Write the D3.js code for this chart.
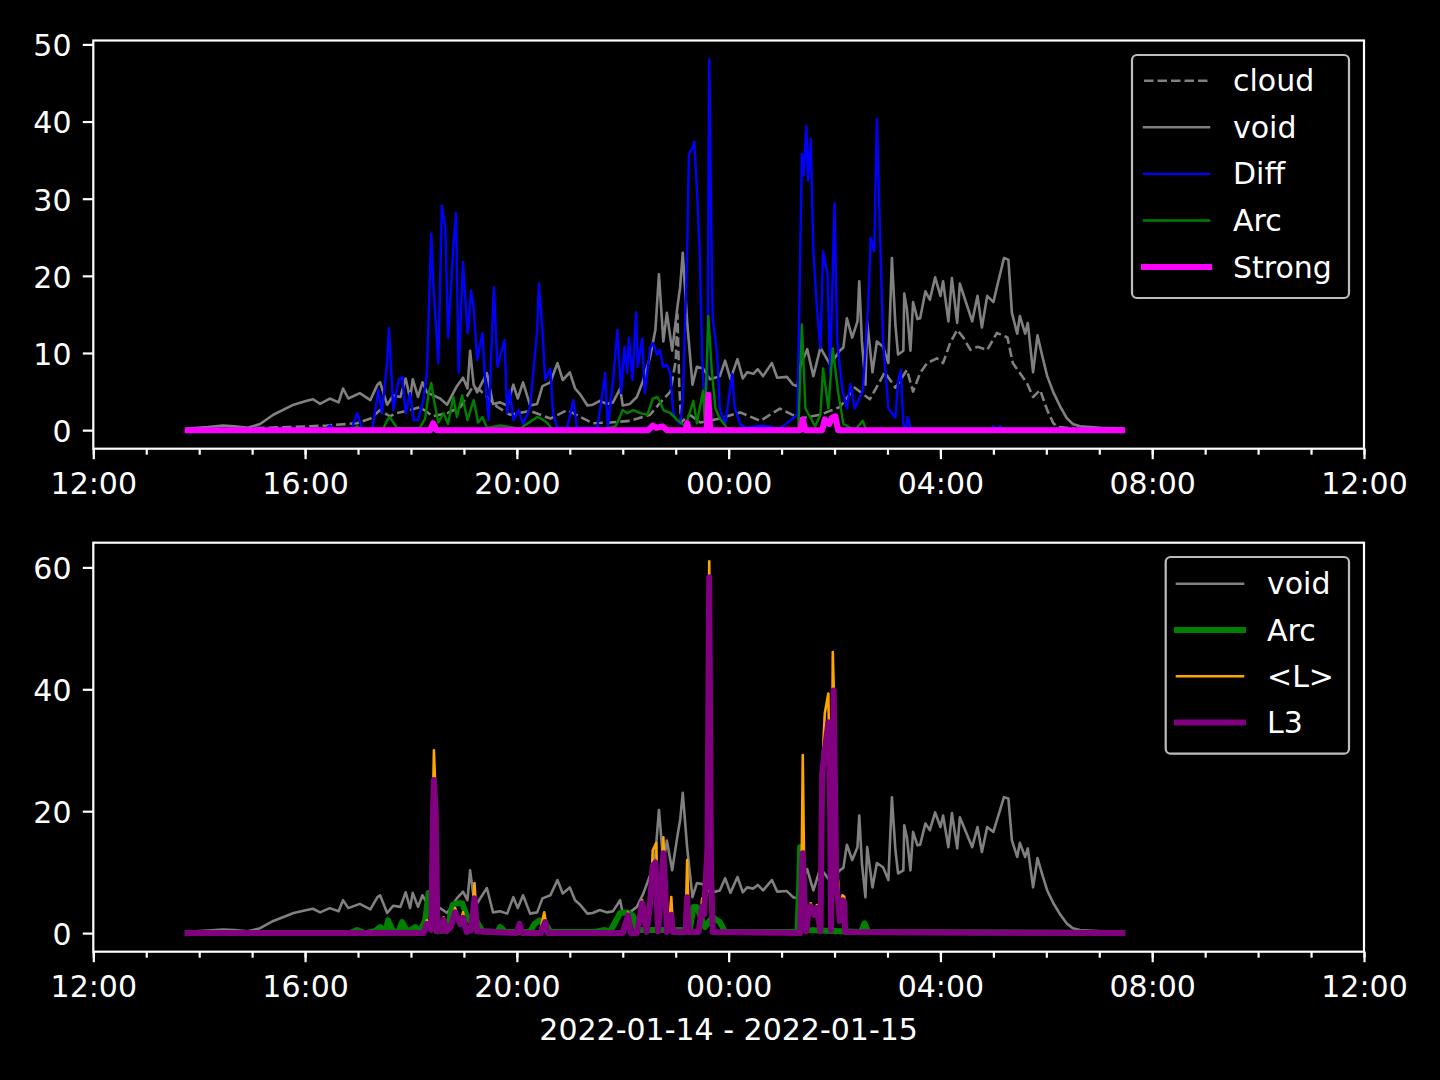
<!DOCTYPE html>
<html><head><meta charset="utf-8">
<script src="https://cdn.jsdelivr.net/npm/d3@7"></script>
<style>
html,body{margin:0;padding:0;background:#000;}
svg{display:block;}
text{font-family:"DejaVu Sans",sans-serif;fill:#fff;}
</style>
</head><body>
<svg id="chart" width="1440" height="1080"></svg>
<script>
// ---- DATA: [minutes after 2022-01-14 12:00, value] ----
const cloudData = [[107,0],[223,0.4],[265,0.6],[299,0.9],[314,1.5],[325,2.6],[336,1.8],[344,2.2],[359,2.6],[370,3.0],[385,1.8],[401,2.2],[416,3.0],[430,5.6],[438,5.2],[458,3.0],[472,2.0],[495,2.5],[518,1.5],[537,2.6],[552,1.7],[566,0.9],[586,1.0],[608,1.2],[631,2.0],[642,3.5],[654,5.0],[660,9],[662,15],[664,6],[666,1.0],[676,2.0],[688,1.0],[710,1.5],[733,2.3],[756,1.2],[778,2.8],[801,1.5],[824,2.0],[846,3.0],[863,5.5],[880,4.0],[897,7.5],[909,5.5],[922,7.8],[929,5.0],[937,7.4],[945,8.7],[956,9.3],[963,8.7],[971,11.3],[979,13.0],[986,12.0],[994,10.4],[1002,10.8],[1013,10.4],[1024,12.6],[1036,12.0],[1042,8.7],[1050,7.4],[1058,6.1],[1065,4.3],[1073,5.2],[1081,2.6],[1088,0.9],[1093,0.4],[1118,0.1],[1166,0]];

const voidData = [[107,0.2],[130,0.4],[147,0.6],[160,0.5],[175,0.3],[189,0.8],[204,2.0],[227,3.3],[242,3.8],[249,4.0],[257,3.4],[268,4.1],[278,3.6],[283,5.4],[289,4.1],[302,4.8],[314,3.9],[322,5.9],[325,6.2],[333,3.3],[340,4.5],[348,4.3],[354,6.7],[359,4.1],[362,6.6],[368,4.3],[373,6.2],[378,4.9],[393,4.1],[401,3.3],[412,5.7],[419,6.8],[424,5.4],[427,10.3],[431,5.9],[435,4.9],[446,7.4],[453,3.4],[461,3.6],[469,3.2],[476,5.9],[481,4.1],[487,6.2],[495,3.2],[503,3.4],[509,5.7],[518,6.2],[526,8.7],[532,6.5],[540,7.5],[546,5.4],[552,4.6],[560,3.2],[566,3.3],[574,3.8],[582,3.4],[589,3.6],[597,5.4],[600,3.2],[608,3.4],[616,4.3],[623,6.4],[631,9.5],[637,13.0],[641,20.2],[646,11.5],[650,15.2],[656,10.3],[662,16.0],[665,18.5],[668,23.0],[673,14.0],[679,5.9],[684,8.2],[691,8.0],[699,6.6],[710,7.0],[716,9.0],[722,6.6],[730,9.2],[736,6.7],[741,7.5],[748,7.3],[753,7.9],[759,7.0],[769,8.7],[775,6.8],[786,6.9],[793,5.9],[798,5.7],[801,8.2],[809,10.5],[816,7.0],[824,10.7],[835,8.5],[846,10.3],[850,10.7],[854,14.5],[860,12.0],[866,14.1],[868,19.3],[871,11.5],[875,5.9],[877,14.1],[883,7.5],[888,11.5],[895,10.8],[901,8.7],[905,22.3],[909,13.6],[912,9.8],[918,10.3],[919,17.7],[922,15.7],[926,10.3],[929,16.6],[934,14.4],[937,14.5],[943,18.0],[948,16.9],[954,19.8],[960,17.4],[963,19.3],[969,14.1],[973,19.7],[979,13.9],[982,19.0],[988,16.9],[996,14.1],[1002,17.4],[1007,13.3],[1013,17.4],[1020,16.6],[1025,19.0],[1032,22.3],[1037,22.1],[1041,15.2],[1047,12.5],[1050,14.8],[1056,12.5],[1059,13.9],[1065,7.5],[1070,12.3],[1075,9.8],[1081,7.0],[1088,4.9],[1096,3.0],[1103,1.6],[1110,0.8],[1118,0.5],[1141,0.3],[1166,0.2]];

const diffData = [[107,0],[262,0],[268,0.6],[274,0],[292,0],[299,2.2],[305,0],[316,0],[323,5.2],[327,2.2],[333,8.8],[335,13.2],[340,2.6],[346,6.5],[350,6.9],[354,2.2],[359,4.8],[363,1.3],[368,1.3],[374,3.9],[378,7.4],[383,25.5],[385,19.4],[391,8.7],[395,29.1],[399,26.3],[402,12.0],[408,23.7],[411,28.2],[414,7.4],[419,21.8],[424,12.6],[425,13.3],[428,18.1],[431,16],[435,9.1],[441,12.6],[444,6.5],[448,1.3],[452,13.0],[454,18.5],[458,8.2],[462,10],[466,11.7],[469,2.2],[472,5.2],[476,1.3],[482,2.6],[487,0.8],[495,3.0],[503,13],[505,19.0],[509,13],[512,6.5],[518,8.0],[521,2.2],[526,0.3],[537,0.3],[544,3.9],[548,0.3],[571,0.3],[577,4.8],[580,7.4],[583,0.3],[589,6.5],[594,13],[598,4.8],[602,10.8],[605,7.4],[607,12.0],[611,6.5],[615,15.3],[617,8.2],[622,11.9],[625,4.8],[631,10.6],[634,11.3],[639,9.8],[642,10.4],[646,8.2],[650,8.5],[654,7.3],[657,2.6],[659,1.6],[665,0.8],[668,3.8],[673,23.2],[675,35.8],[679,36.6],[681,37.4],[684,31.3],[687,23.6],[690,9.3],[693,2.8],[696,7.3],[698,48.1],[700,28.8],[702,14.5],[707,9.8],[710,2.8],[716,0.8],[724,7.3],[727,2.8],[733,0.8],[739,0.3],[758,0.6],[778,0.2],[798,2.0],[803,35.8],[805,33],[808,39.4],[810,32.3],[813,37.8],[816,23.2],[820,15.8],[824,10.6],[827,23.2],[832,20.2],[835,7.3],[840,29.4],[843,11.5],[849,5.1],[854,2.8],[858,6.0],[863,2.8],[872,5.1],[878,15.8],[881,24.9],[885,23.2],[888,40.3],[892,23.6],[895,11.5],[901,2.8],[909,1.6],[912,6.4],[915,7.8],[918,0.8],[921,0.3],[923,1.7],[926,0.3],[932,0],[1017,0],[1020,0.5],[1023,0],[1028,0.5],[1031,0],[1166,0]];

const arcTopData = [[107,0],[291,0],[299,0.5],[305,0],[328,0],[333,1.3],[336,1.7],[344,0.3],[370,0.3],[376,1.5],[380,4.8],[383,6.1],[386,3.9],[391,1.0],[397,2.2],[402,0.8],[408,4.3],[412,1.7],[418,4.5],[424,1.3],[431,3.9],[436,1.0],[441,1.7],[446,0.3],[461,0.6],[484,0.2],[503,1.7],[506,1.6],[514,1.0],[521,0],[574,0],[592,0.5],[600,2.6],[605,2.2],[612,2.6],[620,2.2],[628,2.0],[634,4.1],[639,4.3],[642,3.8],[646,2.6],[654,2.2],[662,1.3],[671,0.5],[680,3.8],[684,0.9],[691,5.1],[693,0.9],[697,14.8],[701,7.5],[705,2.8],[710,1.5],[718,0.3],[733,0],[799,0],[803,13.7],[807,2.8],[818,0.5],[824,2.0],[827,8.0],[833,2.8],[838,10.6],[844,5.0],[850,0.8],[863,0],[872,1.2],[876,0],[1166,0]];

const strongData = [[107,0],[382,0],[385,0.9],[389,0],[629,0],[634,0.6],[638,0.3],[645,0.5],[650,0],[671,0],[673,0.9],[675,0],[695,0],[697,4.6],[699,0],[801,0],[804,1.4],[807,0],[826,0],[829,1.4],[834,0.8],[837,1.6],[841,1.8],[844,0],[1166,0]];

const arcBottomData = [[107,0],[291,0],[299,0.5],[308,0],[319,0.3],[325,1.0],[331,0.2],[334,2.1],[340,0.2],[346,0.3],[350,1.8],[356,0.2],[365,1.0],[370,0.2],[376,2.0],[380,6.6],[384,3.0],[389,0.3],[401,0.5],[407,4.6],[412,4.9],[418,4.9],[424,2.6],[427,2.0],[433,1.5],[435,1.8],[441,0.3],[458,0.2],[461,1.0],[467,0.2],[495,0.2],[500,1.5],[506,2.1],[512,1.6],[518,0.2],[569,0.2],[578,0.5],[586,0.3],[597,3.3],[605,3.4],[612,2.8],[616,0.5],[676,0.5],[680,4.3],[684,4.3],[693,1.0],[702,2.6],[710,1.8],[716,0.2],[798,0.2],[800,8],[801,14.1],[804,8],[808,0.5],[870,0.2],[874,1.6],[878,0.2],[1166,0]];

const meanLData = [[107,0],[374,0],[378,2.1],[383,0.5],[385,22],[386,30.0],[388,22],[390,0.3],[395,0.5],[397,2.6],[400,0.3],[405,1.0],[410,4.1],[416,1.5],[419,3.4],[423,0.2],[428,0.5],[432,8.2],[435,0.3],[479,0],[483,1.8],[486,0],[506,0],[511,3.4],[515,0],[600,0],[606,3.4],[609,0],[616,0],[622,5.4],[627,0.2],[630,3],[633,10],[634,13.6],[638,14.8],[640,0.3],[642,5],[646,15.7],[648,8],[650,0.2],[652,0.5],[655,5.9],[657,0.2],[671,0.2],[673,12.0],[675,0.2],[686,0.2],[690,5.7],[692,3],[696,15],[698,61.0],[700,10],[702,0.2],[801,0],[803,15],[804,29.2],[806,5],[808,0.3],[810,3],[813,4.9],[817,3],[820,4.6],[824,0.3],[826,26.2],[828,33.3],[829,36.1],[833,39.3],[835,20],[836,0.5],[838,46.1],[841,30],[842,8.7],[844,8.7],[846,2],[849,6.2],[851,6],[852,0.2],[1166,0]];

const l3Data = [[107,0],[374,0],[378,1.5],[383,0.5],[385,20],[386,25.1],[388,20],[390,0.3],[395,0.5],[397,2.2],[400,0.3],[405,1.0],[410,3.4],[416,1.5],[419,2.5],[423,0.2],[428,0.5],[432,5.7],[435,0.3],[479,0],[483,1.5],[486,0],[507,0],[512,1.8],[515,0],[600,0],[606,2.9],[609,0],[616,0],[622,4.9],[627,0.2],[631,5],[634,11],[637,11.6],[640,0.3],[642,4],[646,13.1],[648,8],[650,0.2],[652,0.5],[655,3.0],[657,0.2],[671,0.2],[673,5.9],[675,0.2],[686,0.2],[690,4.4],[692,3],[696,14],[698,58.4],[700,10],[702,0.2],[801,0],[803,10],[804,13.1],[806,5],[808,0.3],[810,3],[813,4.4],[817,3],[820,4.1],[824,0.3],[826,26.2],[829,30],[833,34.6],[835,20],[836,0.5],[839,39.8],[842,8],[844,5.5],[846,2],[849,5.4],[851,5],[852,0.2],[1166,0]];

const topNames = ["cloud","void","Diff","Arc","Strong"];
const bottomNames = ["void","Arc","<L>","L3"];
const xTickFormat = "%H:%M";
const xLabel = "2022-01-14 - 2022-01-15";
const xStart = new Date(2022,0,14,12,0);
const xEnd = new Date(2022,0,15,12,0);

// ---- RENDER ----
const svg = d3.select("#chart");
svg.append("rect").attr("width",1440).attr("height",1080).attr("fill","#000");
const toDate = m => new Date(xStart.getTime() + m*60000);
const X0 = 93.3, X1 = 1364;
const x = d3.scaleTime().domain([xStart, xEnd]).range([X0, X1]);
const FS = 30;

const panels = [
  {top:40.5, bottom:448.7,
   series:[
     {name:"cloud", data:cloudData, color:"#808080", w:2.6, dash:"9.5,4"},
     {name:"void", data:voidData, color:"#808080", w:2.6},
     {name:"Diff", data:diffData, color:"#0000ff", w:2.4},
     {name:"Arc", data:arcTopData, color:"#008000", w:2.4},
     {name:"Strong", data:strongData, color:"#ff00ff", w:6}],
   names: topNames,
   legend:{x:1132, y:55, w:217, h:243, row0:80.7, step:46.6, hx0:1144, hx1:1209, tx:1233}},
  {top:542.7, bottom:951.7,
   series:[
     {name:"void", data:voidData, color:"#808080", w:2.6},
     {name:"Arc", data:arcBottomData, color:"#008000", w:6},
     {name:"<L>", data:meanLData, color:"#ffa500", w:2.6},
     {name:"L3", data:l3Data, color:"#800080", w:6}],
   names: bottomNames,
   legend:{x:1165.7, y:557, w:183.3, h:196.7, row0:583.7, step:46.3, hx0:1177, hx1:1243, tx:1267}}
];

panels.forEach((p, pi) => {
  const maxV = d3.max(p.series, s => d3.max(s.data, d => d[1]));
  const pad = 0.05 * maxV;
  const y = d3.scaleLinear().domain([-pad, maxV + pad]).range([p.bottom, p.top]);
  const g = svg.append("g");
  const clipId = "clip" + pi;
  svg.append("clipPath").attr("id", clipId).append("rect")
    .attr("x", X0).attr("y", p.top).attr("width", X1 - X0).attr("height", p.bottom - p.top);

  const line = d3.line().x(d => x(toDate(d[0]))).y(d => y(d[1]));
  const lg = g.append("g").attr("clip-path", `url(#${clipId})`);
  p.series.forEach(s => {
    lg.append("path").datum(s.data).attr("d", line)
      .attr("fill","none").attr("stroke", s.color).attr("stroke-width", s.w)
      .attr("stroke-linejoin","round")
      .attr("stroke-linecap", s.dash ? "butt" : "square")
      .attr("stroke-dasharray", s.dash || null);
  });

  // spines
  g.append("rect").attr("x", X0).attr("y", p.top).attr("width", X1 - X0).attr("height", p.bottom - p.top)
    .attr("fill","none").attr("stroke","#fff").attr("stroke-width",2.2);

  const xa = g.append("g").attr("transform", `translate(0,${p.bottom})`)
    .call(d3.axisBottom(x).ticks(d3.timeHour.every(4)).tickFormat(d3.timeFormat(xTickFormat)).tickSize(10.5).tickPadding(13.7));
  const xm = g.append("g").attr("transform", `translate(0,${p.bottom})`)
    .call(d3.axisBottom(x).ticks(d3.timeHour.every(1)).tickFormat("").tickSize(6));
  const ya = g.append("g").attr("transform", `translate(${X0},0)`)
    .call(d3.axisLeft(y).ticks(pi === 0 ? 6 : 4).tickSize(10.5).tickPadding(11.3));
  [xa, xm, ya].forEach(a => {
    a.select(".domain").remove();
    a.selectAll(".tick line").attr("stroke","#fff").attr("stroke-width",2.2);
    a.selectAll(".tick text").attr("fill","#fff").style("font-size", FS + "px").style("font-family","'DejaVu Sans', sans-serif");
  });
  ya.selectAll(".tick text").attr("dy","0.38em");

  const L = p.legend;
  const leg = g.append("g");
  leg.append("rect").attr("x", L.x).attr("y", L.y).attr("width", L.w).attr("height", L.h)
    .attr("rx", 5).attr("ry", 5).attr("fill","#000").attr("stroke","#bdbdbd").attr("stroke-width",2.2);
  p.names.forEach((n, i) => {
    const s = p.series.find(ss => ss.name === n);
    const cy = L.row0 + i * L.step;
    leg.append("line").attr("x1", L.hx0).attr("x2", L.hx1).attr("y1", cy).attr("y2", cy)
      .attr("stroke", s.color).attr("stroke-width", s.w)
      .attr("stroke-linecap", s.dash ? "butt" : "square")
      .attr("stroke-dasharray", s.dash || null);
    leg.append("text").attr("x", L.tx).attr("y", cy + 10.5).style("font-size", FS + "px").text(n);
  });
});

svg.append("text").attr("x", (X0 + X1) / 2).attr("y", 1040).attr("text-anchor","middle")
  .style("font-size", FS + "px").text(xLabel);
</script>
</body></html>
